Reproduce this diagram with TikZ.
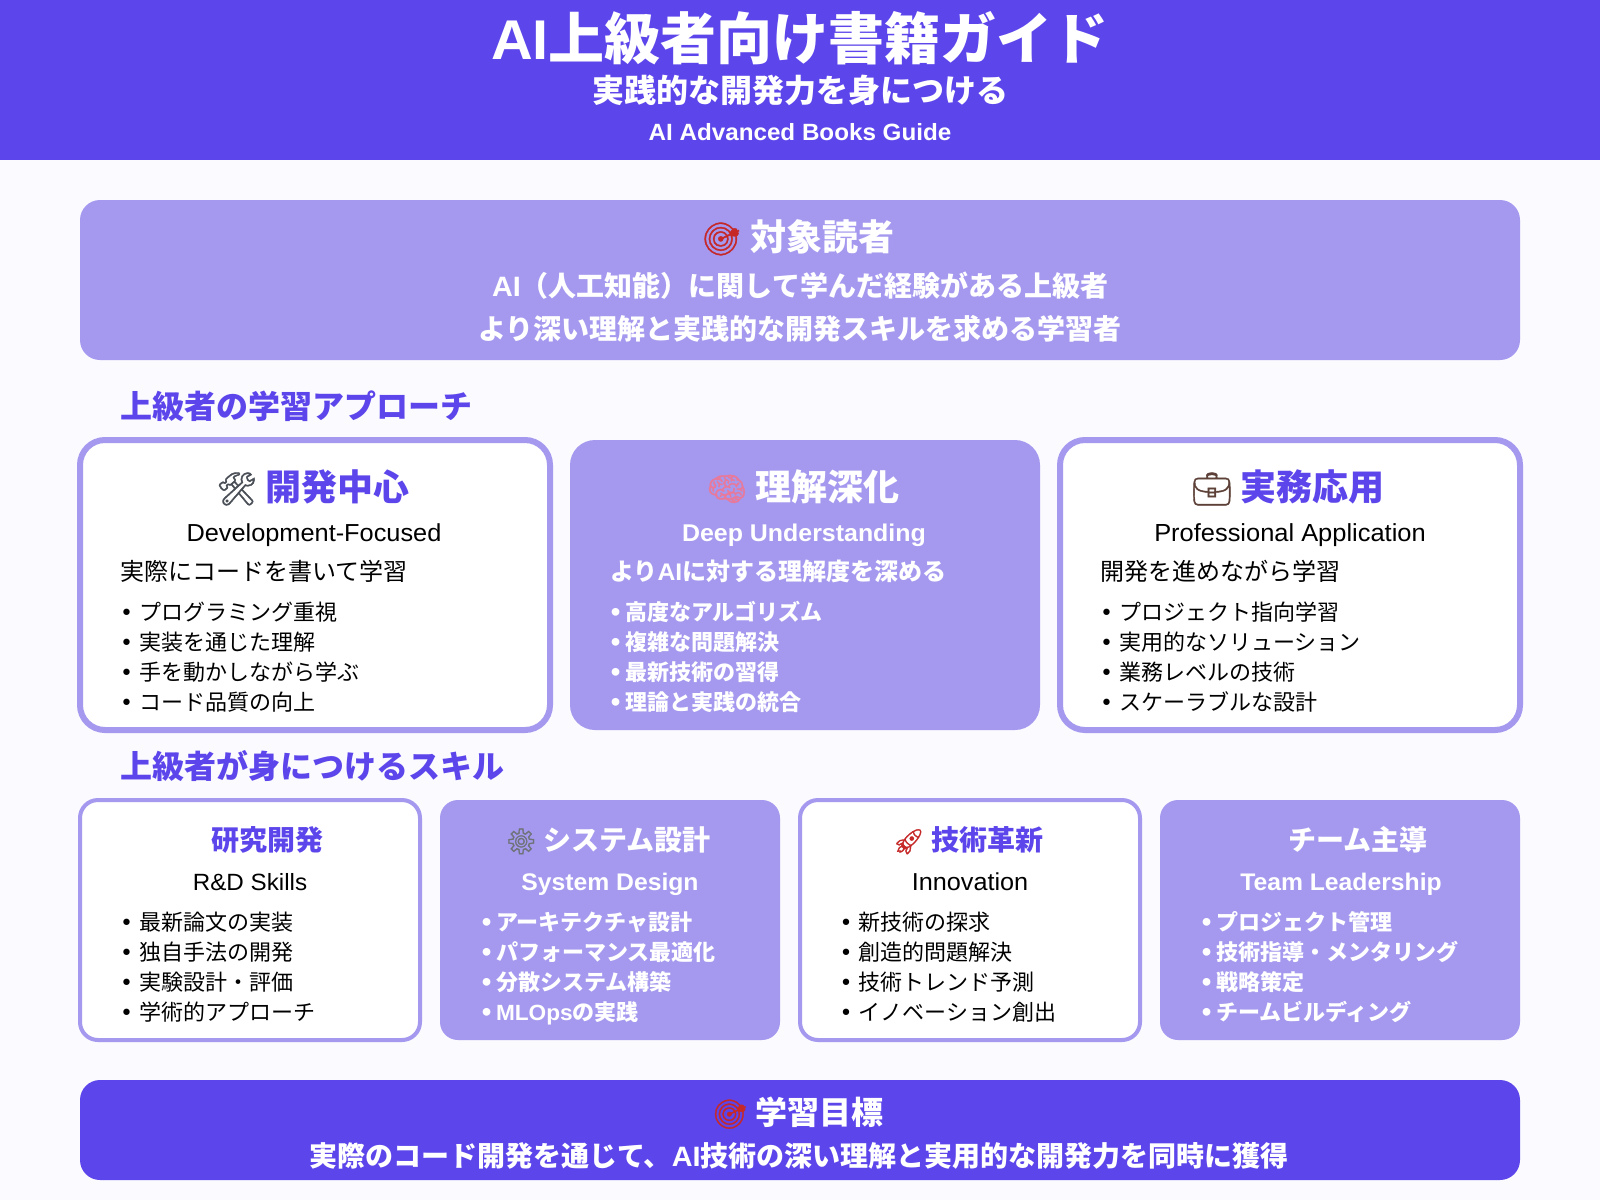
\documentclass[tikz,border=0pt]{standalone}
\usepackage{fontspec}
\setmainfont{Noto Sans CJK JP}
\newfontfamily\latinfont[FakeStretch=1.03]{Liberation Sans}
\newfontfamily\emojifont[FakeBold=1.2,Scale=0.9]{Noto Emoji}
\newfontfamily\dotfont{DejaVu Sans}
\newcommand{\lat}[1]{{\latinfont #1}}
\newcommand{\emo}[2]{{\emojifont\textcolor{#1}{#2}}}
\newcommand{\itm}{\makebox[19pt][l]{\dotfont •}}
\newcommand{\itb}{\makebox[16.5pt][l]{\dotfont •}}
\definecolor{mainpurple}{HTML}{5C46EB}
\definecolor{softpurple}{HTML}{A499EF}
\definecolor{pagetint}{HTML}{FAFAFF}
\definecolor{dartred}{HTML}{C62828}
\definecolor{toolgrey}{HTML}{4A4F57}
\definecolor{brainpink}{HTML}{E8799A}
\definecolor{casebrown}{HTML}{5D4037}
\definecolor{geargrey}{HTML}{6F7378}
\lineskiplimit=-100pt
\begin{document}
\begin{tikzpicture}[x=1pt, y=-1pt, inner sep=0pt, outer sep=0pt,
filled card/.style={fill=softpurple, rounded corners=#1},
open card/.style={fill=white, draw=softpurple, rounded corners=#1},
big title/.style={font=\bfseries\fontsize{56}{60}\selectfont, text=white, anchor=base},
card head/.style={font=\bfseries\fontsize{36}{40}\selectfont, anchor=base},
skill head/.style={font=\bfseries\fontsize{28}{32}\selectfont, anchor=base},
section head/.style={font=\bfseries\fontsize{32}{36}\selectfont, text=mainpurple, anchor=base west},
bold line/.style={font=\bfseries\fontsize{28}{32}\selectfont, text=white, anchor=base},
eng dark/.style={font=\latinfont\fontsize{#1}{30}\selectfont, text=black, anchor=base},
eng light/.style={font=\latinfont\bfseries\fontsize{#1}{30}\selectfont, text=white, anchor=base},
desc dark/.style={font=\fontsize{24}{30}\selectfont, text=black, anchor=base west},
desc light/.style={font=\bfseries\fontsize{24}{30}\selectfont, text=white, anchor=base west},
list dark/.style={font=\fontsize{22}{30}\selectfont, text=black, anchor=base west, align=left},
list light/.style={font=\bfseries\fontsize{22}{30}\selectfont, text=white, anchor=base west, align=left}]
\useasboundingbox (0,0) rectangle (1600,1200);
\fill[pagetint] (0,0) rectangle (1600,1200);
\fill[mainpurple] (0,0) rectangle (1600,160);
% header
\node[big title] (t1) at (800,59) {\lat{AI}上級者向け書籍ガイド};
\node[big title, font=\bfseries\fontsize{32}{36}\selectfont] (t2) at (800,102) {実践的な開発力を身につける};
\node[big title, font=\latinfont\bfseries\fontsize{23.5}{28}\selectfont] (t3) at (800,140) {AI Advanced Books Guide};
% target readers
\begin{scope}
\fill[filled card=20pt] (80,200) rectangle (1520,360);
\node[card head, text=white] (r1) at (798,250) {\emo{dartred}{🎯} 対象読者};
\node[bold line] (r2) at (800,296) {\lat{AI}（人工知能）に関して学んだ経験がある上級者};
\node[bold line] (r3) at (800,339) {より深い理解と実践的な開発スキルを求める学習者};
\end{scope}
% approach
\node[section head] (s1) at (120,418) {上級者の学習アプローチ};
\begin{scope}[line width=6pt]
\draw[open card=25pt] (80,440) rectangle (550,730);
\fill[filled card=25pt] (570,440) rectangle (1040,730);
\draw[open card=25pt] (1060,440) rectangle (1520,730);
\end{scope}
\node[card head, text=mainpurple] (a1) at (313,500) {\emo{toolgrey}{🛠} 開発中心};
\node[eng dark=24.6] (a2) at (314,541) {Development-Focused};
\node[desc dark] (a3) at (120,580) {実際にコードを書いて学習};
\node[list dark] (a4) at (120,710) {\itm プログラミング重視\\\itm 実装を通じた理解\\\itm 手を動かしながら学ぶ\\\itm コード品質の向上};
\node[card head, text=white] (b1) at (803,500) {\emo{brainpink}{🧠} 理解深化};
\node[eng light=24.2] (b2) at (804,541) {Deep Understanding};
\node[desc light] (b3) at (610,580) {より\lat{AI}に対する理解度を深める};
\node[list light] (b4) at (608.5,710) {\itb 高度なアルゴリズム\\\itb 複雑な問題解決\\\itb 最新技術の習得\\\itb 理論と実践の統合};
\node[card head, text=mainpurple] (c1) at (1288,500) {\emo{casebrown}{💼} 実務応用};
\node[eng dark=24.7] (c2) at (1290,541) {Professional Application};
\node[desc dark] (c3) at (1100,580) {開発を進めながら学習};
\node[list dark] (c4) at (1100,710) {\itm プロジェクト指向学習\\\itm 実用的なソリューション\\\itm 業務レベルの技術\\\itm スケーラブルな設計};
% skills
\node[section head] (s2) at (120,778) {上級者が身につけるスキル};
\begin{scope}[line width=4pt]
\draw[open card=18pt] (80,800) rectangle (420,1040);
\fill[filled card=18pt] (440,800) rectangle (780,1040);
\draw[open card=18pt] (800,800) rectangle (1140,1040);
\fill[filled card=18pt] (1160,800) rectangle (1520,1040);
\end{scope}
\node[skill head, text=mainpurple] (d1) at (267,850) {研究開発};
\node[eng dark=23.5] (d2) at (250,890) {R\&D Skills};
\node[list dark] (d3) at (120,1020) {\itm 最新論文の実装\\\itm 独自手法の開発\\\itm 実験設計・評価\\\itm 学術的アプローチ};
\node[skill head, text=white] (e1) at (608,850) {\emo{geargrey}{⚙} システム設計};
\node[eng light=24] (e2) at (610,890) {System Design};
\node[list light] (e3) at (479.5,1020) {\itb アーキテクチャ設計\\\itb パフォーマンス最適化\\\itb 分散システム構築\\\itb \lat{MLOps}の実践};
\node[skill head, text=mainpurple] (f1) at (968,850) {\emo{dartred}{🚀} 技術革新};
\node[eng dark=24.5] (f2) at (970,890) {Innovation};
\node[list dark] (f3) at (839.5,1020) {\itm 新技術の探求\\\itm 創造的問題解決\\\itm 技術トレンド予測\\\itm イノベーション創出};
\node[skill head, text=white] (g1) at (1358,850) {チーム主導};
\node[eng light=24] (g2) at (1341,890) {Team Leadership};
\node[list light] (g3) at (1199.5,1020) {\itb プロジェクト管理\\\itb 技術指導・メンタリング\\\itb 戦略策定\\\itb チームビルディング};
% goal
\fill[mainpurple, rounded corners=20pt] (80,1080) rectangle (1520,1180);
\node[card head, text=white, font=\bfseries\fontsize{32}{36}\selectfont] (h1) at (798,1124) {\emo{dartred}{🎯} 学習目標};
\node[bold line] (h2) at (799,1166) {実際のコード開発を通じて、\lat{AI}技術の深い理解と実用的な開発力を同時に獲得};
\end{tikzpicture}
\end{document}
